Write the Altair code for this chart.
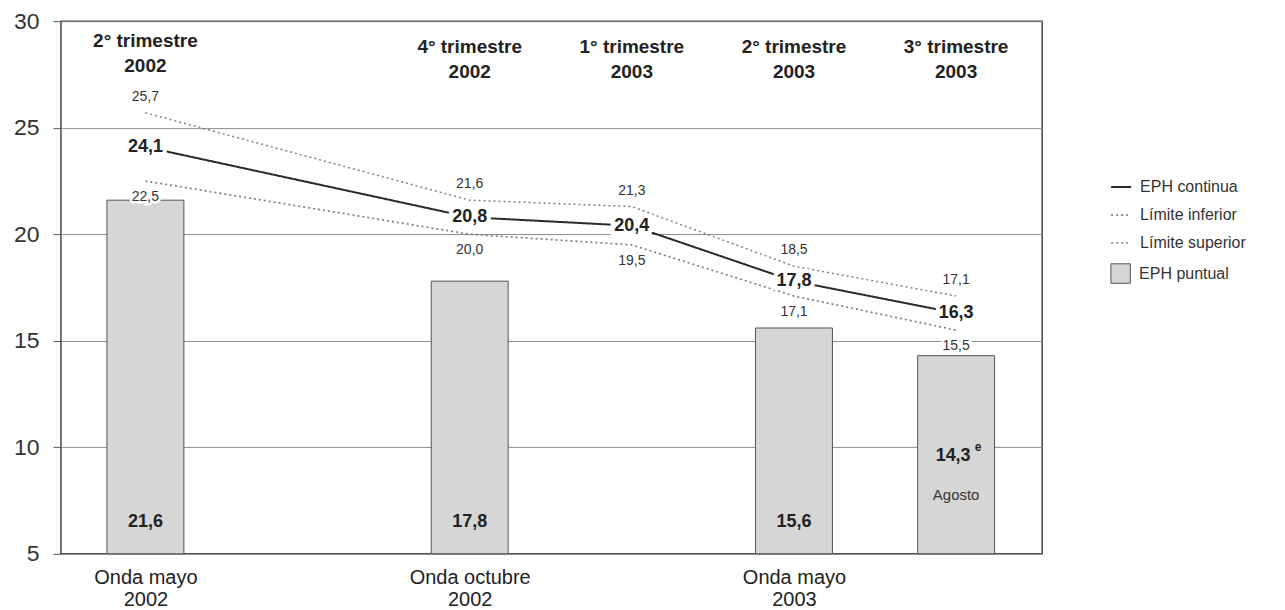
import altair as alt
import pandas as pd

# ---- data ----
trimestres = ["2° trimestre\n2002", "4° trimestre\n2002", "1° trimestre\n2003",
              "2° trimestre\n2003", "3° trimestre\n2003"]
trim_pos = [0, 2, 3, 4, 5]
eph_continua = [24.1, 20.8, 20.4, 17.8, 16.3]
limite_inferior = [22.5, 20.0, 19.5, 17.1, 15.5]
limite_superior = [25.7, 21.6, 21.3, 18.5, 17.1]

onda_names = ["Onda mayo\n2002", "Onda octubre\n2002", "Onda mayo\n2003"]
onda_pos = [0, 2, 4]

puntual_pos = [0, 2, 4, 5]
eph_puntual = [21.6, 17.8, 15.6, 14.3]
puntual_sup = ["", "", "", "e"]
puntual_note = ["", "", "", "Agosto"]

y_ticks = [5, 10, 15, 20, 25, 30]

series = ["EPH continua", "Límite inferior", "Límite superior"]


def fmt(v):
    return f"{v:.1f}".replace(".", ",")


lines_df = pd.DataFrame({
    "pos": trim_pos * 3,
    "valor": eph_continua + limite_inferior + limite_superior,
    "serie": [series[0]] * 5 + [series[1]] * 5 + [series[2]] * 5,
})
lines_df["etiqueta"] = lines_df["valor"].map(fmt)

bars_df = pd.DataFrame({
    "pos": puntual_pos,
    "valor": eph_puntual,
    "sup": puntual_sup,
    "nota": puntual_note,
    "tipo": ["EPH puntual"] * 4,
})
bars_df["etiqueta"] = bars_df["valor"].map(fmt)

top_df = pd.DataFrame({"pos": trim_pos, "texto": trimestres,
                       "primero": [i == 0 for i in range(len(trim_pos))]})

FONT = "Liberation Sans"

# x axis label expression built from the lists
expr = "''"
for p, n in reversed(list(zip(onda_pos, onda_names))):
    parts = n.split("\n")
    expr = f"datum.value == {p} ? ['{parts[0]}', '{parts[1]}'] : ({expr})"

x_scale = alt.Scale(domain=[-0.49, 5.5], nice=False, zero=False)
y_scale = alt.Scale(domain=[5, 30], nice=False, zero=False)

X = alt.X("pos:Q", scale=x_scale,
          axis=alt.Axis(values=onda_pos, labelExpr=expr, title=None, grid=False,
                        ticks=False, domain=False, labelFontSize=20,
                        labelFont=FONT, labelColor="#222", labelPadding=14,
                        labelLineHeight=22))
Y = alt.Y("valor:Q", scale=y_scale,
          axis=alt.Axis(values=y_ticks, title=None, grid=True, gridColor="#8c8c8c",
                        gridWidth=1, domain=False, ticks=True, tickColor="#555",
                        tickSize=8, labelFontSize=23, labelFont=FONT,
                        labelColor="#333", labelPadding=14))

leg_common = dict(title=None, orient="none", labelFontSize=16, labelFont=FONT,
                  labelColor="#333", padding=0, labelOffset=8)

line_legend = alt.Legend(legendX=1050, legendY=155, symbolType="stroke",
                         symbolSize=400, rowPadding=9, **leg_common)

bars = alt.Chart(bars_df).mark_bar(size=77, stroke="#555", strokeWidth=1).encode(
    x=X,
    y=Y,
    y2=alt.datum(5),
    fill=alt.Fill("tipo:N", scale=alt.Scale(domain=["EPH puntual"], range=["#d6d6d6"]),
                  legend=alt.Legend(legendX=1050, legendY=242, symbolType="square",
                                    symbolSize=380, symbolStrokeColor="#555",
                                    symbolStrokeWidth=1, **leg_common)),
)

lines = alt.Chart(lines_df).mark_line().encode(
    x=alt.X("pos:Q", scale=x_scale),
    y=alt.Y("valor:Q", scale=y_scale),
    color=alt.Color("serie:N", scale=alt.Scale(domain=series,
                                               range=["#2a2a2a", "#808080", "#808080"]),
                    legend=line_legend),
    strokeDash=alt.StrokeDash("serie:N", scale=alt.Scale(domain=series,
                                                         range=[[1, 0], [2, 3], [2, 3]]),
                              legend=line_legend),
    strokeWidth=alt.StrokeWidth("serie:N", scale=alt.Scale(domain=series,
                                                           range=[2, 1.5, 1.5]),
                                legend=line_legend),
)

main = alt.Chart(lines_df).transform_filter(alt.datum.serie == series[0])
low = alt.Chart(lines_df).transform_filter(alt.datum.serie == series[1])
up = alt.Chart(lines_df).transform_filter(alt.datum.serie == series[2])

enc = dict(x=alt.X("pos:Q", scale=x_scale), y=alt.Y("valor:Q", scale=y_scale),
           text="etiqueta:N")

halo_main = main.mark_text(font=FONT, fontSize=18, fontWeight="bold", fill="white",
                           stroke="white", strokeWidth=8).encode(**enc)
txt_main = main.mark_text(font=FONT, fontSize=18, fontWeight="bold",
                          color="#222").encode(**enc)
halo_low = low.mark_text(font=FONT, fontSize=14, dy=16, fill="white",
                         stroke="white", strokeWidth=5).encode(**enc)
txt_low = low.mark_text(font=FONT, fontSize=14, dy=16, color="#333").encode(**enc)
halo_up = up.mark_text(font=FONT, fontSize=14, dy=-16, fill="white",
                       stroke="white", strokeWidth=5).encode(**enc)
txt_up = up.mark_text(font=FONT, fontSize=14, dy=-16, color="#333").encode(**enc)

top_style = dict(font=FONT, fontSize=19, fontWeight="bold", color="#222",
                 lineBreak="\n", lineHeight=25, baseline="middle")
top_first = alt.Chart(top_df).transform_filter(alt.datum.primero).mark_text(
    **top_style).encode(x=alt.X("pos:Q", scale=x_scale), y=alt.value(20),
                        text="texto:N")
top_rest = alt.Chart(top_df).transform_filter(~alt.datum.primero).mark_text(
    **top_style).encode(x=alt.X("pos:Q", scale=x_scale), y=alt.value(26),
                        text="texto:N")

bar_enc = dict(x=alt.X("pos:Q", scale=x_scale))
bar_lbl = alt.Chart(bars_df).transform_filter(alt.datum.nota == "").mark_text(
    font=FONT, fontSize=18, fontWeight="bold", color="#222", dy=-32).encode(
    y=alt.datum(5), text="etiqueta:N", **bar_enc)
bar_lbl2 = alt.Chart(bars_df).transform_filter(alt.datum.nota != "").mark_text(
    font=FONT, fontSize=18, fontWeight="bold", color="#222", dy=-98, dx=-3).encode(
    y=alt.datum(5), text="etiqueta:N", **bar_enc)
bar_sup = alt.Chart(bars_df).transform_filter(alt.datum.sup != "").mark_text(
    font=FONT, fontSize=12, fontWeight="bold", color="#222", dy=-107, dx=22).encode(
    y=alt.datum(5), text="sup:N", **bar_enc)
bar_note = alt.Chart(bars_df).transform_filter(alt.datum.nota != "").mark_text(
    font=FONT, fontSize=15, color="#333", dy=-59).encode(
    y=alt.datum(5), text="nota:N", **bar_enc)

chart = alt.layer(
    bars, lines, halo_low, halo_up, halo_main, txt_low, txt_up, txt_main,
    top_first, top_rest, bar_lbl, bar_lbl2, bar_sup, bar_note
).properties(
    width=982, height=533,
    autosize=alt.AutoSizeParams(type="none"),
    padding={"left": 53, "top": 13, "right": 235, "bottom": 56},
    background="white",
).configure_view(stroke="#444", strokeWidth=1.5)

chart.save("out.html", embed_options={"renderer": "svg", "actions": False})
